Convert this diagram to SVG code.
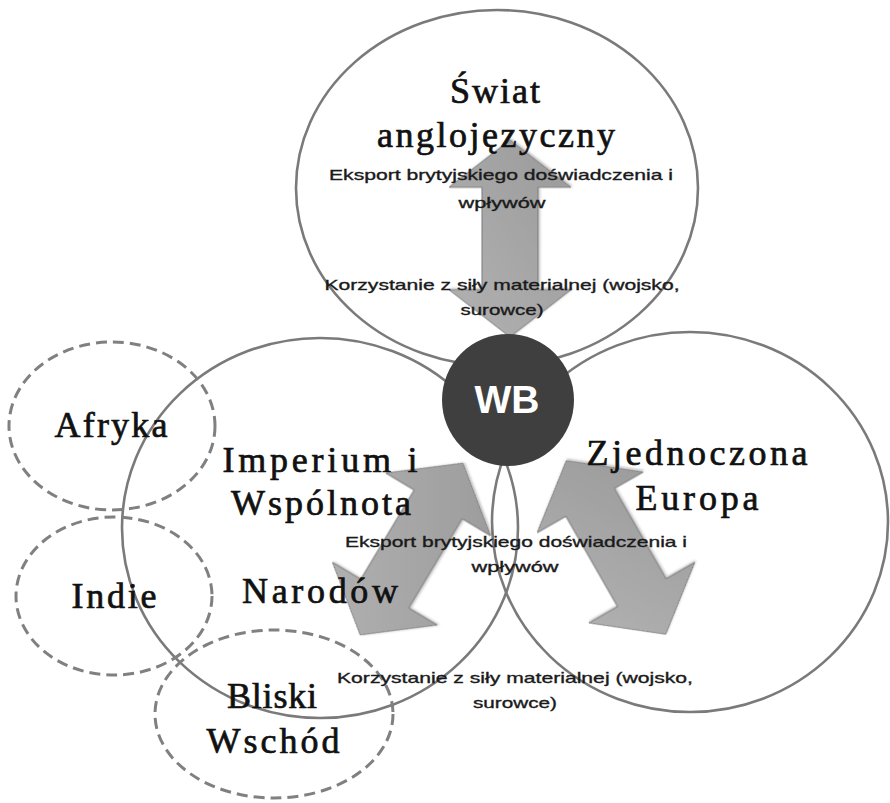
<svg xmlns="http://www.w3.org/2000/svg" width="890" height="803" viewBox="0 0 890 803">
  <style>
    .ring { fill: none; stroke: #7a7a7a; stroke-width: 2.6; }
    .dash { fill: none; stroke: #808080; stroke-width: 3; stroke-dasharray: 11 6; }
    .big { font-family: "Liberation Serif", "DejaVu Serif", serif; font-size: 36px; fill: #111; stroke: #111; stroke-width: 0.7; text-anchor: middle; }
    .small { font-family: "Liberation Sans", "Open Sans", sans-serif; font-size: 15px; fill: #1a1a1a; stroke: #1a1a1a; stroke-width: 0.35; text-anchor: middle; }
    .wb { font-family: "Liberation Sans", "Open Sans", sans-serif; font-size: 39px; font-weight: bold; fill: #ffffff; text-anchor: middle; }
  </style>
  <defs>
    <linearGradient id="agrad" x1="0" y1="0" x2="1" y2="1">
      <stop offset="0" stop-color="#b2b2b2"/>
      <stop offset="1" stop-color="#9a9a9a"/>
    </linearGradient>
    <filter id="shadow" x="-20%" y="-20%" width="140%" height="140%">
      <feDropShadow dx="1" dy="1.5" stdDeviation="1.2" flood-color="#000" flood-opacity="0.25"/>
    </filter>
    <path id="darrow" d="M100,0 L52,-61 L52,-28 L-52,-28 L-52,-61 L-100,0 L-52,61 L-52,28 L52,28 L52,61 Z"/>
  </defs>
  <rect width="890" height="803" fill="#ffffff"/>

  <g id="swiat-anglojezyczny">
    <ellipse class="ring" cx="497" cy="188" rx="201" ry="178"/>
  </g>
  <g id="imperium">
    <ellipse class="ring" cx="320" cy="528" rx="198" ry="190"/>
  </g>
  <g id="europa">
    <ellipse class="ring" cx="690" cy="522" rx="198" ry="190"/>
  </g>
  <g id="afryka">
    <ellipse class="dash" cx="112" cy="426" rx="103" ry="84"/>
    <text class="big" x="111" y="437" textLength="113" lengthAdjust="spacing">Afryka</text>
  </g>
  <g id="indie">
    <ellipse class="dash" cx="114" cy="596" rx="98" ry="79"/>
    <text class="big" x="114" y="608" textLength="85" lengthAdjust="spacing">Indie</text>
  </g>
  <g id="bliski-wschod">
    <ellipse class="dash" cx="274" cy="714" rx="119" ry="84"/>
  </g>

  <g id="connectors">
    <use href="#darrow" fill="url(#agrad)" stroke="#7c7c7c" stroke-width="1" filter="url(#shadow)" transform="translate(510,238.5) rotate(-90) scale(0.985,1)"/>
    <use href="#darrow" fill="url(#agrad)" stroke="#7c7c7c" stroke-width="1" filter="url(#shadow)" transform="translate(411.5,549) rotate(-59.1)"/>
    <use href="#darrow" fill="url(#agrad)" stroke="#7c7c7c" stroke-width="1" filter="url(#shadow)" transform="translate(616,547.5) rotate(-119.8)"/>
  </g>

  <g id="labels-top">
    <text class="big" x="495" y="103" textLength="90" lengthAdjust="spacing">Świat</text>
    <text class="big" x="496" y="147" textLength="238" lengthAdjust="spacing">anglojęzyczny</text>
    <text class="small" x="501" y="180" textLength="344" lengthAdjust="spacingAndGlyphs">Eksport brytyjskiego doświadczenia  i</text>
    <text class="small" x="502" y="208" textLength="87" lengthAdjust="spacingAndGlyphs">wpływów</text>
    <text class="small" x="502" y="290" textLength="355" lengthAdjust="spacingAndGlyphs">Korzystanie  z siły  materialnej (wojsko,</text>
    <text class="small" x="502" y="315" textLength="83" lengthAdjust="spacingAndGlyphs">surowce)</text>
  </g>
  <g id="labels-imperium">
    <text class="big" x="320" y="472" textLength="195" lengthAdjust="spacing">Imperium i</text>
    <text class="big" x="321" y="515" textLength="180" lengthAdjust="spacing">Wspólnota</text>
    <text class="big" x="320" y="603" textLength="156" lengthAdjust="spacing">Narodów</text>
  </g>
  <g id="labels-europa">
    <text class="big" x="697" y="465" textLength="221" lengthAdjust="spacing">Zjednoczona</text>
    <text class="big" x="697" y="510" textLength="123" lengthAdjust="spacing">Europa</text>
  </g>
  <g id="labels-middle">
    <text class="small" x="516" y="547" textLength="342" lengthAdjust="spacingAndGlyphs">Eksport brytyjskiego doświadczenia  i</text>
    <text class="small" x="515" y="572" textLength="87" lengthAdjust="spacingAndGlyphs">wpływów</text>
    <text class="small" x="515" y="683" textLength="356" lengthAdjust="spacingAndGlyphs">Korzystanie  z siły  materialnej (wojsko,</text>
    <text class="small" x="515" y="708" textLength="84" lengthAdjust="spacingAndGlyphs">surowce)</text>
  </g>
  <g id="labels-bliski">
    <text class="big" x="272" y="708" textLength="90" lengthAdjust="spacing">Bliski</text>
    <text class="big" x="273" y="753" textLength="133" lengthAdjust="spacing">Wschód</text>
  </g>

  <g id="wb">
    <circle cx="508" cy="400" r="66" fill="#3f3f3f"/>
    <text class="wb" x="507" y="413">WB</text>
  </g>
</svg>
